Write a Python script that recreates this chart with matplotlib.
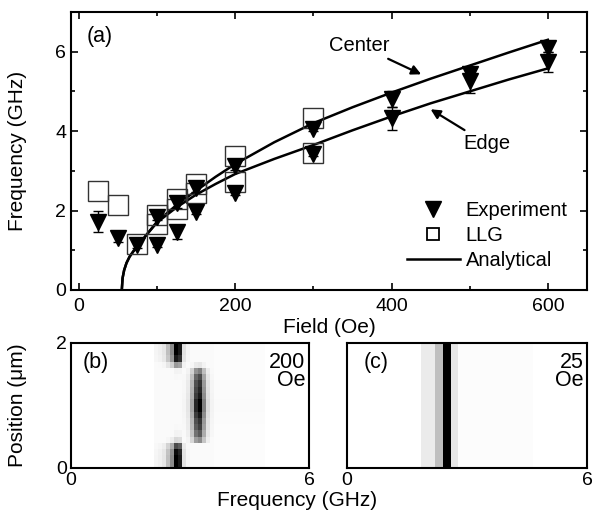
import numpy as np
import matplotlib.pyplot as plt

plt.rcParams['font.family'] = ['Liberation Sans', 'DejaVu Sans']
plt.rcParams['font.size'] = 14

# ---- panel (a) data ----
exp_field = [25, 50, 75, 100, 100, 125, 125, 150, 150, 200, 200, 300, 300, 400, 400, 500, 500, 600, 600]
exp_freq = [1.72, 1.3, 1.14, 1.84, 1.14, 2.18, 1.45, 2.56, 1.97, 3.12, 2.45, 4.06, 3.42, 4.8, 4.32, 5.45, 5.25, 6.1, 5.75]
exp_err = [0.27, 0.1, 0.08, 0.08, 0.05, 0.12, 0.17, 0.1, 0.05, 0.1, 0.05, 0.06, 0.05, 0.2, 0.28, 0.15, 0.3, 0.12, 0.25]

llg_field = [25, 50, 75, 100, 100, 125, 125, 150, 150, 200, 200, 300, 300]
llg_freq = [2.5, 2.14, 1.16, 1.9, 1.67, 2.28, 2.05, 2.68, 2.45, 3.37, 2.72, 4.32, 3.44]

curve_field = [55, 56, 58, 61, 65, 70, 75, 85, 100, 125, 150, 175, 200, 250, 300, 350, 400, 450, 500, 550, 600]
center_curve = [0, 0.3, 0.5, 0.68, 0.84, 0.98, 1.08, 1.35, 1.72, 2.14, 2.5, 2.85, 3.17, 3.72, 4.2, 4.6, 4.97, 5.32, 5.65, 5.98, 6.3]
edge_curve = [0, 0.3, 0.5, 0.68, 0.84, 0.98, 1.08, 1.35, 1.7, 2.08, 2.4, 2.67, 2.92, 3.3, 3.65, 4.02, 4.37, 4.7, 5.0, 5.3, 5.58]

# ---- panel (b) data: 200 Oe ----
freq_edges_b = [0.0, 2.1, 2.2, 2.3, 2.4, 2.5, 2.6, 2.7, 2.8, 2.9, 3.0, 3.1, 3.2, 3.3, 3.4, 3.5, 3.6, 4.9, 6.0]
edge_profile_b = [0, 0.04, 0.06, 0.1, 0.25, 0.45, 1.0, 0.9, 0.12, 0.04, 0.02, 0, 0, 0, 0, 0, 0, 0]
center_profile_b = [0, 0, 0, 0, 0, 0, 0, 0, 0.04, 0.1, 0.35, 0.85, 1.0, 0.5, 0.15, 0.05, 0.02, 0]
background_b = [0, 0.02, 0.02, 0.02, 0.02, 0.02, 0.02, 0.02, 0.02, 0.02, 0.02, 0.02, 0.02, 0.02, 0.02, 0.02, 0.012, 0]
pos_edges_b = np.linspace(0, 2, 21)
edge_amp_b = [1.0, 1.0, 0.95, 0.7, 0.15, 0.05, 0.03, 0.02, 0.02, 0.02,
              0.02, 0.02, 0.02, 0.02, 0.03, 0.05, 0.4, 0.9, 1.0, 1.0]
center_amp_b = [0, 0, 0, 0, 0.45, 0.65, 0.75, 0.8, 0.9, 1.0,
                1.0, 0.9, 0.85, 0.8, 0.7, 0.5, 0.1, 0, 0, 0]

# ---- panel (c) data: 25 Oe ----
freq_edges_c = [0.0, 1.85, 2.2, 2.4, 2.6, 2.78, 4.65, 6.0]
profile_c = [0, 0.08, 0.25, 1.0, 0.1, 0.015, 0]

fig = plt.figure(figsize=(5.95, 5.14), dpi=100)
ax = fig.add_axes([0.1193, 0.4358, 0.8672, 0.5409])

ax.plot(curve_field, center_curve, 'k-', lw=1.8)
ax.plot(curve_field, edge_curve, 'k-', lw=1.8)
ax.plot(llg_field, llg_freq, 's', ms=14, mfc='none', mec='#333333', mew=1.0, ls='none')
ax.errorbar(exp_field, exp_freq, yerr=exp_err, fmt='v', ms=11, color='k',
            elinewidth=1, capsize=3.5, capthick=1)

# legend handles
h1, = ax.plot([], [], 'v', ms=12, color='k')
h2, = ax.plot([], [], 's', ms=9, mfc='none', mec='k', mew=1.3)
h3, = ax.plot([], [], 'k-', lw=1.8)
ax.legend([h1, h2, h3], ['Experiment', 'LLG', 'Analytical'], loc='lower right',
          bbox_to_anchor=(0.99, 0.02), frameon=False, labelspacing=0.3,
          handletextpad=0.3, handlelength=2.6, fontsize=14.5, borderpad=0.2)

ax.annotate('Center', xy=(438, 5.43), xytext=(359, 6.16), ha='center', va='center',
            fontsize=14.5, arrowprops=dict(arrowstyle='-|>', color='k', lw=1.6,
                                           mutation_scale=14, shrinkA=2, shrinkB=0))
ax.annotate('Edge', xy=(450, 4.55), xytext=(522, 3.68), ha='center', va='center',
            fontsize=14.5, arrowprops=dict(arrowstyle='-|>', color='k', lw=1.6,
                                           mutation_scale=14, shrinkA=2, shrinkB=0))
ax.text(0.03, 0.95, '(a)', transform=ax.transAxes, ha='left', va='top', fontsize=15.5)

ax.set_xlim(-10, 650)
ax.set_ylim(0, 7)
ax.set_xticks([0, 200, 400, 600])
ax.set_xticks([100, 300, 500], minor=True)
ax.set_yticks([0, 2, 4, 6])
ax.set_yticks([1, 3, 5], minor=True)
ax.tick_params(which='both', direction='in', top=True, right=True, width=1.2, labelsize=14)
ax.tick_params(which='major', length=5)
ax.tick_params(which='minor', length=3)
ax.tick_params(axis='x', pad=6)
ax.set_xlabel('Field (Oe)', fontsize=15, labelpad=2)
ax.set_ylabel('Frequency (GHz)', fontsize=15)
ax.yaxis.set_label_coords(-0.085, 0.5)
for s in ax.spines.values():
    s.set_linewidth(1.5)

# ---- panel (b) ----
axb = fig.add_axes([0.1193, 0.0895, 0.4, 0.2432])
img_b = np.maximum(np.outer(edge_amp_b, edge_profile_b), np.outer(center_amp_b, center_profile_b))
img_b = np.maximum(img_b, np.array(background_b)[None, :])
axb.pcolormesh(freq_edges_b, pos_edges_b, img_b, cmap='gray_r', vmin=0, vmax=1)
axb.set_xlim(0, 6)
axb.set_ylim(0, 2)
axb.set_xticks([0, 6])
axb.set_yticks([0, 2])
axb.tick_params(length=0, labelsize=14)
axb.tick_params(axis='x', pad=3)
axb.tick_params(axis='y', pad=3)
axb.text(0.05, 0.93, '(b)', transform=axb.transAxes, ha='left', va='top', fontsize=15.5)
axb.text(0.985, 0.93, '200\nOe', transform=axb.transAxes, ha='right', va='top',
         fontsize=15.5, linespacing=0.85)
axb.set_ylabel('Position (\u03bcm)', fontsize=15)
axb.yaxis.set_label_coords(-0.185, 0.5)

# ---- panel (c) ----
axc = fig.add_axes([0.5832, 0.0895, 0.4034, 0.2432])
axc.pcolormesh(freq_edges_c, [0, 2], np.array([profile_c]), cmap='gray_r', vmin=0, vmax=1)
axc.set_xlim(0, 6)
axc.set_ylim(0, 2)
axc.set_xticks([0, 6])
axc.set_yticks([])
axc.tick_params(length=0, labelsize=14, pad=3)
axc.text(0.07, 0.93, '(c)', transform=axc.transAxes, ha='left', va='top', fontsize=15.5)
axc.text(0.985, 0.93, '25\nOe', transform=axc.transAxes, ha='right', va='top',
         fontsize=15.5, linespacing=0.85)

for a in (axb, axc):
    for s in a.spines.values():
        s.set_linewidth(1.5)

fig.text(0.5, 0.027, 'Frequency (GHz)', ha='center', va='center', fontsize=15)

fig.savefig('out.png', dpi=100)
